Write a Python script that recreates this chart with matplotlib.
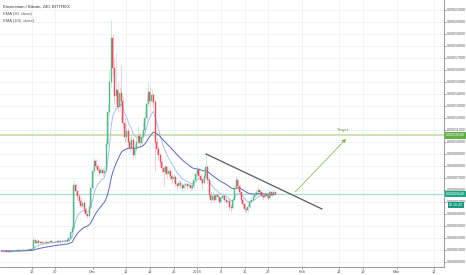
import matplotlib
matplotlib.use("Agg")
import matplotlib.pyplot as plt
import matplotlib.dates as mdates
import numpy as np
import pandas as pd
from datetime import datetime, timedelta

plt.rcParams['font.family'] = ['Liberation Sans', 'DejaVu Sans']

# ---- data (prices in units of 1e-5 BTC, 12h candles starting 2017-11-04) ----
start_date = datetime(2017, 11, 4)
first_open = 0.93
closes = [0.92,0.90,0.88,0.86,0.88,0.87,0.90,0.92,0.95,0.97,0.94,0.98,1.00,1.03,0.99,1.02,1.05,1.02,1.06,
          1.85,1.60,
          1.75,1.62,1.68,1.58,1.65,1.70,1.62,1.66,1.72,1.64,1.70,1.68,1.75,1.70,1.78,1.72,1.76,1.80,1.74,
          2.00,2.50,2.80,6.40,
          5.90,5.50,5.10,4.70,4.90,4.40,4.00,3.80,
          4.60,6.20,7.60,8.40,
          8.00,7.70,7.40,7.70,7.40,7.60,
          9.80,12.5,15.0,18.7,16.2,13.8,
          14.3,12.9,14.1,13.4,11.6,10.4,
          10.9,10.0,9.5,10.2,8.9,9.4,
          10.0,10.5,9.9,10.4,11.0,12.0,13.2,14.2,
          13.4,13.9,13.3,10.0,
          9.4,8.9,8.3,7.8,7.5,
          7.9,7.3,7.6,7.2,6.9,7.1,
          6.5,6.3,6.6,6.4,6.2,6.4,6.5,6.3,6.4,6.2,6.3,
          6.8,7.3,7.7,7.2,6.8,6.6,
          7.2,7.9,6.8,5.6,5.2,
          5.5,5.2,5.6,5.4,5.0,5.3,5.5,5.2,5.0,5.1,
          4.6,4.5,
          5.2,6.2,6.8,6.3,
          5.8,5.2,4.8,4.4,4.3,
          4.6,5.0,5.2,5.4,5.6,5.8,
          6.0,5.8,5.5,
          5.4,5.7,5.5,5.3,
          5.8,5.6,5.8,5.64]
highs = [0.96,0.94,0.92,0.90,0.91,0.91,0.93,0.96,0.99,1.02,1.00,1.02,1.05,1.08,1.06,1.06,1.10,1.08,1.10,
         2.05,1.95,
         1.88,1.80,1.74,1.72,1.70,1.76,1.74,1.70,1.78,1.75,1.74,1.74,1.80,1.78,1.84,1.82,1.80,1.86,1.84,
         2.10,2.62,3.00,6.80,
         6.60,6.00,5.70,5.40,5.20,5.00,4.50,4.10,
         4.80,6.50,7.90,8.70,
         8.60,8.20,7.90,8.00,7.80,8.00,
         10.3,13.2,16.0,20.2,19.0,17.0,
         17.4,15.0,14.6,16.4,13.8,12.0,
         11.6,11.2,10.3,10.6,10.4,9.8,
         10.4,11.3,10.8,10.8,11.6,12.6,13.8,15.0,
         14.6,14.4,14.1,13.5,
         10.3,9.7,9.1,8.6,8.0,
         8.2,8.0,7.9,7.7,7.4,7.3,
         7.2,6.7,6.8,6.8,6.5,6.6,6.7,6.6,6.6,6.5,6.5,
         7.0,7.5,8.0,7.8,7.3,7.0,
         7.4,9.0,8.1,7.0,5.8,
         5.8,5.6,5.8,5.7,5.5,5.5,5.7,5.6,5.3,5.3,
         5.2,4.8,
         5.4,6.4,7.2,6.9,
         6.4,5.9,5.3,4.9,4.6,
         4.8,5.2,5.4,5.6,5.8,6.0,
         6.3,6.1,5.9,
         5.6,5.9,5.8,5.6,
         6.0,5.9,5.9,5.85]
lows = [0.88,0.87,0.85,0.83,0.84,0.85,0.86,0.88,0.90,0.93,0.91,0.92,0.96,0.98,0.96,0.97,1.00,0.99,1.00,
        1.04,1.55,
        1.56,1.58,1.58,1.54,1.55,1.62,1.58,1.59,1.63,1.60,1.61,1.64,1.65,1.66,1.68,1.68,1.69,1.72,1.70,
        1.72,1.95,2.40,2.75,
        5.60,5.20,4.90,4.50,4.60,4.20,3.85,3.65,
        3.70,4.50,6.00,7.40,
        7.80,7.50,7.20,7.30,7.20,7.30,
        7.50,9.60,12.2,14.6,15.5,13.2,
        13.4,12.5,12.6,13.0,11.2,10.0,
        10.1,9.7,9.2,9.3,8.6,8.7,
        9.2,9.8,9.6,9.7,10.2,10.8,11.8,13.0,
        13.0,13.1,12.8,7.6,
        9.0,8.5,8.0,7.5,6.3,
        7.3,7.0,7.1,6.9,6.6,6.7,
        6.3,6.1,6.2,6.2,6.0,6.1,6.2,6.1,6.2,6.0,6.1,
        6.2,6.7,7.1,7.0,6.5,6.1,
        6.5,7.0,6.6,5.3,4.9,
        5.1,5.0,5.1,5.2,4.8,4.9,5.2,5.0,4.8,4.9,
        4.3,4.2,
        4.4,5.1,6.0,6.1,
        5.6,5.0,4.6,4.2,4.1,
        4.2,4.5,4.9,5.1,5.3,5.5,
        5.7,5.6,5.3,
        5.2,5.3,5.3,5.2,
        5.2,5.5,5.5,5.55]

ema_fast_span = 10   # EMA(30) on 4h bars ~ 10 half-day bars
ema_slow_span = 33   # EMA(100) on 4h bars ~ 33 half-day bars

target_level = 10.54
last_level = 5.64
trend_dates = [datetime(2018, 1, 3, 14), datetime(2018, 2, 6, 21)]
trend_prices = [9.0, 4.42]
arrow_dates = [datetime(2018, 1, 29, 10), datetime(2018, 2, 14, 14)]
arrow_prices = [5.67, 10.42]

xtick_dates = [datetime(2017,11,13), datetime(2017,11,20), datetime(2017,12,1), datetime(2017,12,11),
               datetime(2017,12,18), datetime(2017,12,25), datetime(2018,1,1), datetime(2018,1,8),
               datetime(2018,1,15), datetime(2018,1,22), datetime(2018,2,1), datetime(2018,2,12),
               datetime(2018,2,19), datetime(2018,3,1), datetime(2018,3,12)]
xtick_labels = ["13","20","Dec","11","18","25","2018","8","15","22","Feb","12","19","Mar","12"]
ytick_values = [i * 1.0 for i in range(22)]

SCALE = 1e-5
UP = "#53b987"
DOWN = "#eb4d5c"

closes = np.array(closes)
opens = np.concatenate([[first_open], closes[:-1]])
highs = np.array(highs)
lows = np.array(lows)
times = [start_date + timedelta(hours=12 * i) for i in range(len(closes))]
tnum = mdates.date2num(times)

ema_fast = pd.Series(closes).ewm(span=ema_fast_span, adjust=False).mean().values
ema_slow = pd.Series(closes).ewm(span=ema_slow_span, adjust=False).mean().values

fig = plt.figure(figsize=(4.66, 2.75), dpi=100)
ax = fig.add_axes([0, 8 / 275, 444 / 466, 267 / 275])

# grid
for d in xtick_dates:
    ax.axvline(mdates.date2num(d), color="#edf2f7", lw=0.6, zorder=0)
for v in ytick_values:
    ax.axhline(v * SCALE, color="#edf2f7", lw=0.6, zorder=0)

# horizontal levels
ax.axhline(target_level * SCALE, color="#c3e0a8", lw=1.2, zorder=1)
ax.axhline(last_level * SCALE, color="#a6e0cf", lw=0.9, zorder=1)

# EMAs
ax.plot(tnum, ema_fast * SCALE, color="#a9c1f0", lw=0.7, zorder=2)
ax.plot(tnum, ema_slow * SCALE, color="#5c67c4", lw=0.7, zorder=2)

# candles
w = 0.3
for t, o, h, l, c in zip(tnum, opens, highs, lows, closes):
    col = UP if c >= o else DOWN
    ax.vlines(t, l * SCALE, h * SCALE, color=col, lw=0.4, alpha=0.5, zorder=3)
    ax.bar(t, (c - o) * SCALE if c != o else 0.02 * SCALE, bottom=o * SCALE, width=w,
           color=col, edgecolor=col, linewidth=0.3, zorder=4)

# trendline and target arrow
ax.plot(mdates.date2num(trend_dates), np.array(trend_prices) * SCALE, color="#5a5a5a", lw=0.9, zorder=5)
ax.annotate("", xy=(mdates.date2num(arrow_dates[1]), arrow_prices[1] * SCALE),
            xytext=(mdates.date2num(arrow_dates[0]), arrow_prices[0] * SCALE),
            arrowprops=dict(arrowstyle="-|>", color="#7cb342", lw=0.6, linestyle=(0, (2, 1)),
                            mutation_scale=5), zorder=5)
ax.text(mdates.date2num(arrow_dates[1]) - 1.5, (arrow_prices[1] + 0.55) * SCALE, "Target",
        color="#6aa33a", fontsize=3.2, ha="center", va="center", zorder=6)

# axes styling
ax.set_xlim(mdates.date2num(datetime(2017,11,13)) - 9.38, mdates.date2num(datetime(2017,11,13)) + 122.0)
ax.set_ylim(-0.417 * SCALE, 21.83 * SCALE)
ax.set_xticks(mdates.date2num(xtick_dates))
ax.set_xticklabels(xtick_labels)
ax.set_yticks(np.array(ytick_values) * SCALE)
ax.set_yticklabels(["%.8f" % (v * SCALE) for v in ytick_values])
ax.yaxis.tick_right()
ax.tick_params(axis="x", labelsize=2.9, colors="#555555", length=1.5, width=0.4, pad=1)
ax.tick_params(axis="y", labelsize=2.5, colors="#555555", length=1.2, width=0.4, pad=0.6)
for s in ["left", "top"]:
    ax.spines[s].set_visible(False)
for s in ["right", "bottom"]:
    ax.spines[s].set_color("#8a8a8a")
    ax.spines[s].set_linewidth(0.6)

# price labels on the right axis
ytr = ax.get_yaxis_transform()
ax.text(1.004, target_level * SCALE, "0.00010540", transform=ytr, fontsize=2.5, color="white",
        va="center", ha="left", bbox=dict(boxstyle="square,pad=0.3", fc="#5fae46", ec="none"),
        clip_on=False, zorder=10)
ax.text(1.004, last_level * SCALE, "0.00005640", transform=ytr, fontsize=2.5, color="white",
        va="center", ha="left", bbox=dict(boxstyle="square,pad=0.3", fc="#1ea886", ec="none"),
        clip_on=False, zorder=10)
ax.text(1.012, (last_level - 0.9) * SCALE, "02:18:43", transform=ytr, fontsize=2.5, color="white",
        va="center", ha="left", bbox=dict(boxstyle="square,pad=0.3", fc="#1a9a7c", ec="none"),
        clip_on=False, zorder=10)

# header
fig.text(3 / 466, 1 - 7 / 275, "Einsteinium / Bitcoin, 240, BITTREX", fontsize=3.1, color="#333333", va="center")
fig.text(3 / 466, 1 - 14 / 275, "EMA (30, close)", fontsize=3.0, color="#555555", va="center")
fig.text(3 / 466, 1 - 21 / 275, "EMA (100, close)", fontsize=3.0, color="#555555", va="center")

fig.savefig("out.png", dpi=100, facecolor="white")
